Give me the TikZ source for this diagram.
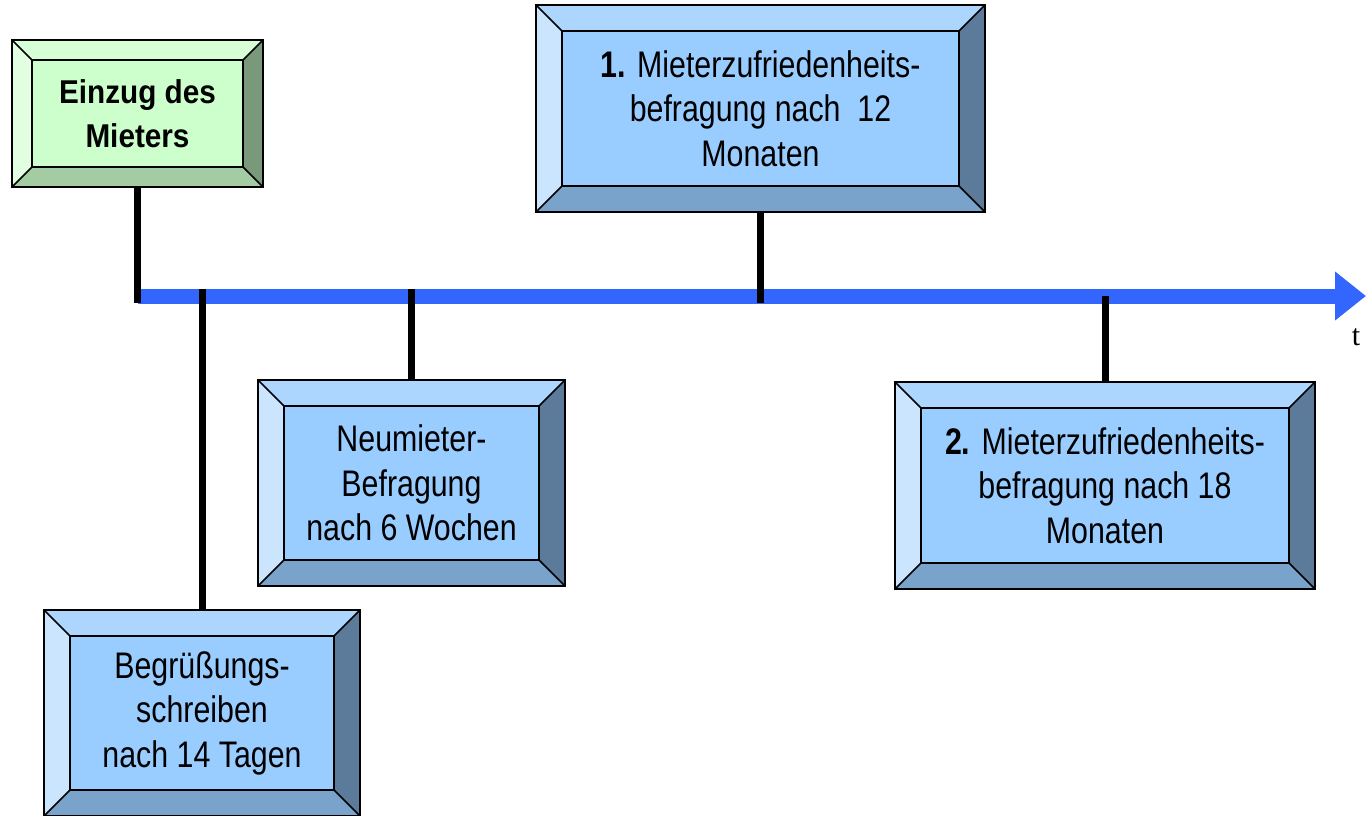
\documentclass[tikz,border=0pt]{standalone}
\usepackage{fontspec}
\setmainfont{Liberation Sans}
\newfontfamily\narrowfont[FakeStretch=0.82]{Liberation Sans}
\newfontfamily\gfont[FakeStretch=0.9]{Liberation Sans}
\newfontfamily\tfont{Liberation Serif}
\usetikzlibrary{arrows.meta,positioning,calc}
\definecolor{bmid}{RGB}{153,204,255}
\definecolor{btop}{RGB}{173,214,255}
\definecolor{bleft}{RGB}{204,229,255}
\definecolor{bright}{RGB}{92,122,153}
\definecolor{bbot}{RGB}{122,163,204}
\definecolor{gmid}{RGB}{204,255,204}
\definecolor{gtop}{RGB}{214,255,214}
\definecolor{gleft}{RGB}{226,255,226}
\definecolor{gright}{RGB}{122,153,122}
\definecolor{gbot}{RGB}{163,204,163}
\definecolor{tline}{RGB}{51,102,255}
\tikzset{
  bbox/.style={rectangle, fill=bmid, inner sep=0pt, outer sep=0pt, align=center,
               font=\narrowfont\fontsize{37}{44.5}\selectfont},
  gbox/.style={rectangle, fill=gmid, inner sep=0pt, outer sep=0pt, align=center,
               font=\gfont\bfseries\fontsize{33}{44}\selectfont},
  edge/.style={black, line width=1.5pt, line join=miter},
  stem/.style={black, line width=7pt},
  axarr/.style={tline, line width=15pt, -{Triangle[length=31pt, width=47pt]}},
  tlab/.style={font=\tfont\fontsize{30}{32}\selectfont},
}
% bevelled frame round a node: name, bevel width, colour prefix
\newcommand{\bevel}[3]{%
  \fill[#3top] (#1.north west) -- (#1.north east) -- ([shift={(-#2,#2)}]#1.north east)
      -- ([shift={(#2,#2)}]#1.north west) -- cycle;
  \fill[#3left] (#1.north west) -- ([shift={(#2,#2)}]#1.north west)
      -- ([shift={(#2,-#2)}]#1.south west) -- (#1.south west) -- cycle;
  \fill[#3right] (#1.north east) -- ([shift={(-#2,#2)}]#1.north east)
      -- ([shift={(-#2,-#2)}]#1.south east) -- (#1.south east) -- cycle;
  \fill[#3bot] (#1.south west) -- ([shift={(#2,-#2)}]#1.south west)
      -- ([shift={(-#2,-#2)}]#1.south east) -- (#1.south east) -- cycle;
  \draw[edge] (#1.north west) rectangle (#1.south east);
  \draw[edge] ([shift={(#2,#2)}]#1.north west) rectangle ([shift={(-#2,-#2)}]#1.south east);
  \draw[edge] (#1.north west) -- ([shift={(#2,#2)}]#1.north west);
  \draw[edge] (#1.north east) -- ([shift={(-#2,#2)}]#1.north east);
  \draw[edge] (#1.south west) -- ([shift={(#2,-#2)}]#1.south west);
  \draw[edge] (#1.south east) -- ([shift={(-#2,-#2)}]#1.south east);}

\begin{document}
\begin{tikzpicture}[x=1pt, y=-1pt]
  \useasboundingbox (0,0) rectangle (1366,816);
  % boxes
  \node[gbox, minimum width=251pt, minimum height=147pt] (einzug) at (137.5,113.5)
       {Einzug des\\Mieters};
  \bevel{einzug}{20}{g}
  \node[bbox, minimum width=449pt, minimum height=207pt] (mz1) at (760.5,108.5)
       {\textbf{1.} Mieterzufriedenheits-\\befragung nach\ \ 12\\Monaten};
  \bevel{mz1}{26}{b}
  \node[bbox, minimum width=307pt, minimum height=206pt] (neu) at (411.5,483)
       {Neumieter-\\Befragung\\nach 6 Wochen};
  \bevel{neu}{26}{b}
  \node[bbox, minimum width=420pt, minimum height=207pt] (mz2) at (1105,485.5)
       {\textbf{2.} Mieterzufriedenheits-\\befragung nach 18\\Monaten};
  \bevel{mz2}{26}{b}
  \node[bbox, minimum width=316pt, minimum height=206pt] (begr) at (202,713)
       {Begrüßungs-\\schreiben\\nach 14 Tagen};
  \bevel{begr}{26}{b}
  % time axis
  \coordinate (axL) at (138,296);
  \coordinate (axR) at (1366,296);
  \draw[axarr] (axL) -- (axR);
  \node[tlab] (tl) at (1356,337) {t};
  % stems
  \draw[stem] (einzug.south) -- ([yshift=-7pt]einzug.south |- axL);
  \draw[stem] (begr.north) -- ([yshift=7pt]begr.north |- axL);
  \draw[stem] (neu.north) -- ([yshift=7pt]neu.north |- axL);
  \draw[stem] (mz1.south) -- ([yshift=-7pt]mz1.south |- axL);
  \draw[stem] (mz2.north) -- (mz2.north |- axL);
\end{tikzpicture}
\end{document}
